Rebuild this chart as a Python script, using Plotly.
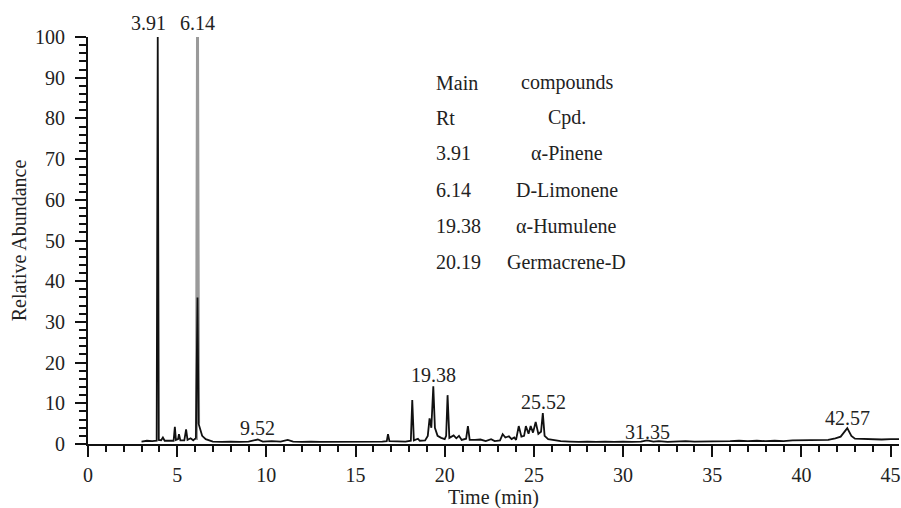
import plotly.graph_objects as go

# Chromatogram trace (retention time in min, relative abundance %)
time_min = [3.0, 3.3, 3.6, 3.85, 3.91, 3.97, 4.1, 4.2, 4.3, 4.6, 4.8, 4.87, 4.93, 5.05, 5.1, 5.18,
            5.4, 5.5, 5.58, 5.75, 5.9, 6.05, 6.14, 6.2, 6.3, 6.4, 6.6, 7.0, 7.5, 8.0, 8.5, 9.0,
            9.52, 9.8, 10.3, 10.8, 11.2, 11.5, 12.0, 12.5, 13.0, 13.5, 14.0, 14.5, 15.0, 15.5,
            16.0, 16.5, 16.75, 16.82, 16.9, 17.3, 17.8, 18.1, 18.18, 18.27, 18.5, 18.6, 18.9,
            19.05, 19.15, 19.25, 19.36, 19.45, 19.6, 19.8, 20.0, 20.08, 20.16, 20.26, 20.5,
            20.65, 20.8, 20.95, 21.2, 21.3, 21.4, 21.7, 22.0, 22.3, 22.6, 22.8, 23.1, 23.25,
            23.4, 23.6, 23.75, 23.9, 24.0, 24.15, 24.3, 24.45, 24.55, 24.7, 24.82, 24.95, 25.1,
            25.25, 25.4, 25.5, 25.6, 25.8, 26.1, 26.5, 27.0, 27.5, 28.0, 28.5, 29.0, 29.5, 30.0,
            30.5, 31.0, 31.35, 31.7, 32.0, 32.5, 33.0, 33.5, 34.0, 34.5, 35.0, 35.5, 36.0, 36.5,
            37.0, 37.5, 38.0, 38.5, 39.0, 39.5, 40.0, 40.5, 41.0, 41.5, 41.9, 42.2, 42.57, 42.8,
            43.0, 43.5, 44.0, 44.5, 45.0, 45.5]
abundance = [0.6, 0.8, 0.7, 0.8, 100, 1.0, 0.9, 1.6, 0.8, 0.9, 0.8, 4.2, 1.0, 1.2, 2.4, 0.9,
             0.9, 3.6, 1.0, 1.4, 0.9, 1.5, 36, 5, 3.5, 2, 1.2, 0.6, 0.5, 0.6, 0.5, 0.6,
             1.1, 0.6, 0.7, 0.6, 1.0, 0.6, 0.5, 0.6, 0.5, 0.5, 0.6, 0.5, 0.6, 0.5,
             0.6, 0.6, 0.7, 2.4, 0.7, 0.6, 0.6, 0.8, 10.8, 0.9, 1.3, 0.8, 0.9,
             2.0, 6.3, 4.0, 14.2, 4.0, 2.0, 1.5, 1.2, 2.0, 12.0, 1.5, 2.1,
             1.4, 2.0, 1.0, 1.3, 4.4, 1.0, 1.0, 1.1, 0.7, 1.2, 0.7, 0.9, 2.4,
             1.6, 1.9, 1.2, 1.6, 1.0, 4.4, 1.8, 2.0, 4.4, 2.5, 4.4, 2.8, 5.4,
             2.5, 3.0, 7.6, 2.0, 1.2, 1.0, 0.7, 0.6, 0.5, 0.6, 0.5, 0.6, 0.5, 0.6,
             0.5, 0.6, 0.9, 0.6, 0.7, 0.5, 0.6, 0.7, 0.6, 0.6, 0.7, 0.6, 0.7, 0.8,
             0.7, 0.8, 0.7, 0.8, 0.7, 0.9, 0.9, 0.9, 1.0, 1.0, 1.4, 1.8, 3.9, 2.0,
             1.3, 1.2, 1.2, 1.1, 1.2, 1.2]

# Saturated part of the D-Limonene peak (drawn in grey)
sat_time = [6.08, 6.14, 6.2]
sat_abundance = [1.0, 100, 5]

# Peak labels
peak_labels = ["3.91", "6.14", "9.52", "19.38", "25.52", "31.35", "42.57"]
peak_times = [3.91, 6.14, 9.52, 19.38, 25.52, 31.35, 42.57]
peak_label_y = [103.4, 103.4, 3.9, 17.0, 10.3, 3.0, 6.4]

# Main compounds table
table_header = ["Main", "compounds"]
table_sub = ["Rt", "Cpd."]
rt_values = ["3.91", "6.14", "19.38", "20.19"]
compounds = ["α-Pinene", "D-Limonene", "α-Humulene", "Germacrene-D"]

x_title = "Time (min)"
y_title = "Relative Abundance"

FONT = "Liberation Serif"
FS = 20
TXT = "#222222"

fig = go.Figure()
fig.add_trace(go.Scatter(x=sat_time, y=sat_abundance, mode="lines",
                         line=dict(color="#9a9a9a", width=3), hoverinfo="skip",
                         showlegend=False))
fig.add_trace(go.Scatter(x=time_min, y=abundance, mode="lines",
                         line=dict(color="#111111", width=1.8), showlegend=False))

Y_MAX = 100.0
ann = []
for lab, t, yv in zip(peak_labels, peak_times, peak_label_y):
    ann.append(dict(x=t, y=yv / Y_MAX, xref="x", yref="paper", text=lab, showarrow=False,
                    xshift=-9 if lab == "3.91" else 0,
                    font=dict(family=FONT, size=FS, color=TXT), yanchor="middle"))

table_y = [88.7, 80.1, 71.5, 62.4, 53.6, 44.7]
left_col = [table_header[0], table_sub[0]] + rt_values
right_col = [table_header[1], table_sub[1]] + compounds
for yv, l, r in zip(table_y, left_col, right_col):
    ann.append(dict(x=19.41, y=yv, xref="x", yref="y", text=l, showarrow=False,
                    xanchor="left", font=dict(family=FONT, size=FS, color=TXT)))
    ann.append(dict(x=26.84, y=yv, xref="x", yref="y", text=r, showarrow=False,
                    xanchor="center", font=dict(family=FONT, size=FS, color=TXT)))

# x-axis title placed just below the tick labels
ann.append(dict(x=0.5, y=-0.131, xref="paper", yref="paper", text=x_title, showarrow=False,
                xanchor="center", yanchor="middle", font=dict(family=FONT, size=FS, color=TXT)))

fig.update_layout(
    width=901, height=508,
    margin=dict(l=88, r=0, t=37, b=64),
    paper_bgcolor="white", plot_bgcolor="white",
    font=dict(family=FONT, size=FS, color=TXT),
    annotations=ann,
    xaxis=dict(range=[0, 45.47], tick0=0, dtick=5, ticks="outside", ticklen=11,
               tickwidth=2, tickcolor="#111", showline=True, linewidth=2, linecolor="#111",
               showgrid=False, zeroline=False, ticklabelstandoff=1,
               ticklabeloverflow="allow",
               minor=dict(dtick=1, ticks="outside", ticklen=6, tickwidth=1.5, tickcolor="#111")),
    yaxis=dict(range=[0, 100], tick0=0, dtick=10, ticks="outside", ticklen=11,
               tickwidth=2, tickcolor="#111", showline=True, linewidth=2, linecolor="#111",
               showgrid=False, zeroline=False, ticklabelstandoff=6,
               minor=dict(dtick=2, ticks="outside", ticklen=7, tickwidth=1.5, tickcolor="#111"),
               title=dict(text=y_title, standoff=3, font=dict(family=FONT, size=FS))),
)

fig.write_html("out.html", config={"displayModeBar": False},
               post_script="document.body.style.margin='0';")
